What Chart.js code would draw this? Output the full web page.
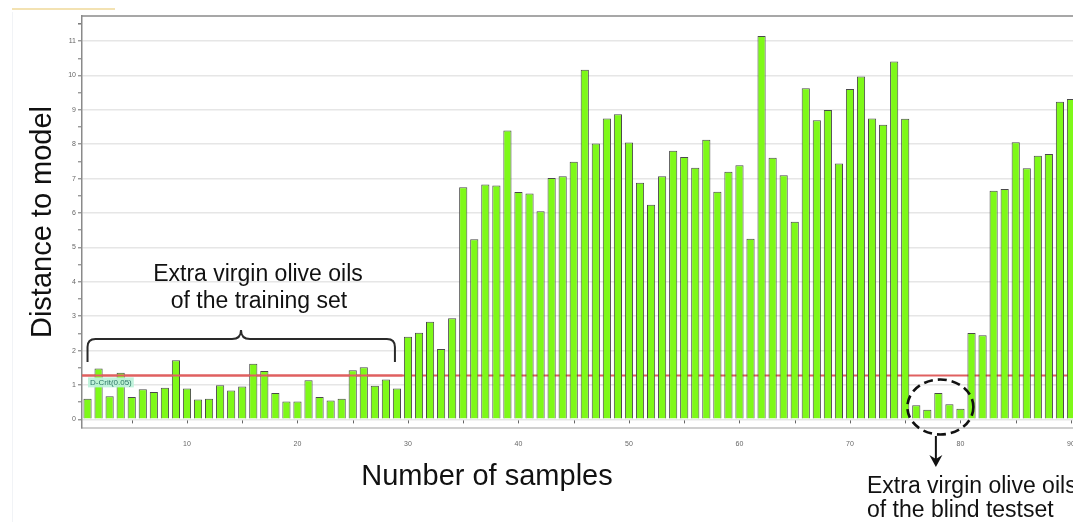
<!DOCTYPE html>
<html>
<head>
<meta charset="utf-8">
<script src="https://cdn.jsdelivr.net/npm/chart.js@4/dist/chart.umd.min.js"></script>
<style>
  html, body { margin: 0; padding: 0; background: #fff; overflow: hidden; width: 1073px; height: 522px; }
  #wrap { position: absolute; left: 0; top: 0; width: 1090px; height: 522px; }
</style>
</head>
<body>
<div id="wrap"><canvas id="chart" width="1090" height="522"></canvas></div>
<script>
// Sample numbers on the x axis (1..90)
const sampleNumbers = Array.from({ length: 90 }, (_, i) => i + 1);

// Distance to model for each sample
const trainingDistances = [0.60, 1.48, 0.67, 1.36, 0.65, 0.88, 0.80, 0.92, 1.72, 0.90,
                           0.58, 0.60, 0.99, 0.84, 0.96, 1.62, 1.41, 0.77, 0.52, 0.52,
                           1.14, 0.65, 0.55, 0.60, 1.43, 1.52, 0.98, 1.16, 0.90];
const otherOilDistancesA = [2.40, 2.52, 2.84, 2.05, 2.94,
                            6.75, 5.24, 6.83, 6.80, 8.40, 6.61, 6.57, 6.05, 7.02, 7.07,
                            7.49, 10.17, 8.02, 8.75, 8.87, 8.05, 6.88, 6.24, 7.07, 7.81,
                            7.63, 7.32, 8.13, 6.62, 7.20, 7.39,
                            5.25, 11.15, 7.61, 7.10, 5.75, 9.63, 8.70, 9.00, 7.44, 9.61,
                            9.97, 8.75, 8.57, 10.41, 8.74];
const blindTestDistances = [0.41, 0.28, 0.77, 0.44, 0.31];
const otherOilDistancesB = [2.51, 2.45, 6.65, 6.70, 8.06, 7.30, 7.67, 7.72, 9.24, 9.32];

const distances = [...trainingDistances, ...otherOilDistancesA, ...blindTestDistances, ...otherOilDistancesB];

// Critical distance (D-Crit, 0.05)
const criticalDistance = [1.28];
const criticalLabel = ['D-Crit(0.05)'];

// Axis ticks
const yTickValues = [0, 1, 2, 3, 4, 5, 6, 7, 8, 9, 10, 11];
const xTickLabels = [10, 20, 30, 40, 50, 60, 70, 80, 90];

const FONT = '"Liberation Sans", Arial, Helvetica, sans-serif';

const overlay = {
  id: 'overlay',
  beforeDatasetsDraw(chart) {
    // critical-distance line behind the bars
    const { ctx, chartArea: a, scales: { y } } = chart;
    const yc = y.getPixelForValue(criticalDistance[0]);
    ctx.save();
    ctx.strokeStyle = '#e06060';
    ctx.lineWidth = 2;
    ctx.beginPath(); ctx.moveTo(a.left, yc); ctx.lineTo(a.right, yc); ctx.stroke();
    ctx.restore();
  },
  afterDatasetsDraw(chart) {
    const { ctx, chartArea: a, scales: { x, y } } = chart;
    const slot = (a.right - a.left) / sampleNumbers.length;
    const yc = y.getPixelForValue(criticalDistance[0]);
    const trainEnd = x.getPixelForValue(trainingDistances.length) - slot / 2;
    ctx.save();
    // over the training bars the line stays in front
    ctx.strokeStyle = '#e06060';
    ctx.lineWidth = 2;
    ctx.beginPath(); ctx.moveTo(a.left, yc); ctx.lineTo(trainEnd, yc); ctx.stroke();

    // D-Crit label
    ctx.font = '8px ' + FONT;
    const lx = a.left + 6, ly = yc + 2;
    const tw = ctx.measureText(criticalLabel[0]).width;
    ctx.fillStyle = 'rgba(190,242,218,0.95)';
    ctx.fillRect(lx, ly, tw + 4, 10);
    ctx.fillStyle = '#2b7565';
    ctx.textBaseline = 'middle';
    ctx.textAlign = 'left';
    ctx.fillText(criticalLabel[0], lx + 2, ly + 5.5);

    // small x tick marks every 5 samples at the zero line
    const y0 = y.getPixelForValue(0);
    ctx.strokeStyle = '#666';
    ctx.lineWidth = 1;
    for (let s = 5; s <= sampleNumbers.length; s += 5) {
      const px = Math.round(x.getPixelForValue(s - 1)) + 0.5;
      ctx.beginPath(); ctx.moveTo(px, y0 + 1); ctx.lineTo(px, y0 + 4); ctx.stroke();
    }

    // frame line along the top of the plot
    ctx.strokeStyle = '#8a8a8a';
    ctx.lineWidth = 1.5;
    ctx.beginPath(); ctx.moveTo(a.left, a.top); ctx.lineTo(a.right, a.top); ctx.stroke();
    ctx.restore();
  },
  afterDraw(chart) {
    const { ctx, scales: { x, y } } = chart;
    ctx.save();

    // faint header line and page edge
    ctx.strokeStyle = '#f3e2b2';
    ctx.lineWidth = 2;
    ctx.beginPath(); ctx.moveTo(12, 9); ctx.lineTo(115, 9); ctx.stroke();
    ctx.strokeStyle = '#f1f3f6';
    ctx.lineWidth = 1;
    ctx.beginPath(); ctx.moveTo(12.5, 12); ctx.lineTo(12.5, 522); ctx.stroke();

    // x axis title
    ctx.fillStyle = '#111';
    ctx.font = '29px ' + FONT;
    ctx.textAlign = 'center';
    ctx.textBaseline = 'alphabetic';
    ctx.fillText('Number of samples', 487, 485);

    // brace over the training set
    const bx0 = x.getPixelForValue(0);
    const bx1 = x.getPixelForValue(trainingDistances.length - 1) - 2;
    const bmid = 241;
    const bTop = 339, bTip = 330, bEnd = 362, r = 8;
    ctx.strokeStyle = '#2a2a2a';
    ctx.lineWidth = 2;
    ctx.beginPath();
    ctx.moveTo(bx0, bEnd);
    ctx.lineTo(bx0, bTop + r);
    ctx.quadraticCurveTo(bx0, bTop, bx0 + r, bTop);
    ctx.lineTo(bmid - 9, bTop);
    ctx.quadraticCurveTo(bmid, bTop, bmid, bTip);
    ctx.quadraticCurveTo(bmid, bTop, bmid + 9, bTop);
    ctx.lineTo(bx1 - r, bTop);
    ctx.quadraticCurveTo(bx1, bTop, bx1, bTop + r);
    ctx.lineTo(bx1, bEnd);
    ctx.stroke();

    ctx.fillStyle = '#111';
    ctx.font = '23px ' + FONT;
    ctx.textAlign = 'center';
    ctx.fillText('Extra virgin olive oils', 258, 281);
    ctx.fillText('of the training set', 259, 308);

    // dashed ellipse around the blind test samples
    const ex = x.getPixelForValue(77) + 2;
    ctx.strokeStyle = '#111';
    ctx.lineWidth = 2.6;
    ctx.setLineDash([9, 5]);
    ctx.beginPath();
    ctx.ellipse(ex, 407, 33, 27.5, 0, 0, Math.PI * 2);
    ctx.stroke();
    ctx.setLineDash([]);

    // arrow down to the caption
    const ax = ex - 4.5;
    ctx.lineWidth = 2;
    ctx.beginPath(); ctx.moveTo(ax, 436); ctx.lineTo(ax, 460); ctx.stroke();
    ctx.fillStyle = '#111';
    ctx.beginPath();
    ctx.moveTo(ax - 6.5, 455);
    ctx.lineTo(ax, 467);
    ctx.lineTo(ax + 6.5, 455);
    ctx.lineTo(ax, 459);
    ctx.closePath();
    ctx.fill();

    ctx.font = '23px ' + FONT;
    ctx.textAlign = 'left';
    ctx.fillText('Extra virgin olive oils', 867, 493);
    ctx.fillText('of the blind testset', 867, 517);

    ctx.restore();
  }
};

new Chart(document.getElementById('chart'), {
  type: 'bar',
  data: {
    labels: sampleNumbers,
    datasets: [{
      data: distances,
      backgroundColor: '#7ef918',
      borderColor: '#4a4a4a',
      borderWidth: 1,
      barPercentage: 0.74,
      categoryPercentage: 1.0
    }]
  },
  options: {
    responsive: false,
    animation: false,
    devicePixelRatio: 1,
    layout: { padding: { top: 16, right: 13.5, left: 0, bottom: 0 } },
    plugins: { legend: { display: false }, tooltip: { enabled: false } },
    scales: {
      x: {
        type: 'category',
        offset: true,
        grid: { display: false },
        border: { display: true, color: '#cfcfcf', width: 2 },
        ticks: {
          autoSkip: false,
          maxRotation: 0,
          padding: 4,
          color: '#666',
          font: { size: 7, family: FONT },
          callback: (val, idx) => xTickLabels.includes(sampleNumbers[idx]) ? String(sampleNumbers[idx]) : ''
        },
        afterFit: (s) => { s.height = 94; }
      },
      y: {
        min: -0.25,
        max: 11.73,
        afterBuildTicks: (s) => {
          const t = [];
          for (const v of yTickValues) { t.push({ value: v }); if (v < 11.5) t.push({ value: v + 0.5 }); }
          t.push({ value: 11.5 });
          s.ticks = t;
        },
        grid: {
          color: (c) => (c.tick && yTickValues.includes(c.tick.value)) ? '#e6e6e6' : 'rgba(0,0,0,0)',
          lineWidth: 1.6,
          tickColor: '#707070',
          tickLength: 4,
          tickWidth: 1
        },
        border: { display: true, color: '#8a8a8a', width: 1.5 },
        ticks: {
          autoSkip: false,
          padding: 2,
          color: '#666',
          font: { size: 7, family: FONT },
          callback: (v) => yTickValues.includes(v) ? String(v) : ''
        },
        title: {
          display: true,
          text: 'Distance to model',
          color: '#111',
          font: { size: 29, family: FONT, lineHeight: 1.2 },
          padding: { top: 25.6, bottom: 0 }
        },
        afterFit: (s) => { s.width = 82; }
      }
    }
  },
  plugins: [overlay]
});
</script>
</body>
</html>
